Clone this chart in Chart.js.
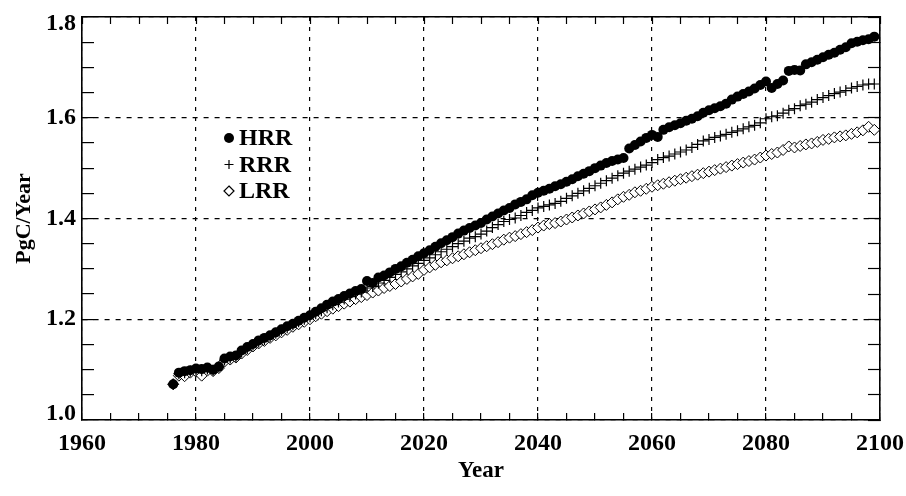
<!DOCTYPE html>
<html>
<head>
<meta charset="utf-8">
<script src="https://cdn.jsdelivr.net/npm/chart.js@4.4.0/dist/chart.umd.min.js"></script>
<style>
  html, body { margin: 0; padding: 0; background: #fff; }
</style>
</head>
<body>
<canvas id="chart" width="906" height="496"></canvas>
<script>
// yearly values 1976..2099
const FIRST_YEAR = 1976;

const hrr = [
  1.071, 1.094, 1.097, 1.099, 1.102, 1.101, 1.104, 1.100, 1.106, 1.122,
  1.126, 1.128, 1.138, 1.145, 1.151, 1.158, 1.163, 1.168, 1.174, 1.180,
  1.186, 1.191, 1.197, 1.203, 1.208, 1.215, 1.222, 1.229, 1.235, 1.240,
  1.246, 1.251, 1.256, 1.260, 1.276, 1.272, 1.283, 1.287, 1.293, 1.300,
  1.305, 1.312, 1.318, 1.325, 1.331, 1.337, 1.344, 1.351, 1.357, 1.363,
  1.370, 1.376, 1.381, 1.386, 1.391, 1.398, 1.404, 1.410, 1.416, 1.421,
  1.428, 1.433, 1.438, 1.446, 1.451, 1.455, 1.459, 1.464, 1.468, 1.473,
  1.478, 1.484, 1.489, 1.494, 1.500, 1.505, 1.510, 1.514, 1.517, 1.520,
  1.539, 1.546, 1.553, 1.560, 1.566, 1.562, 1.576, 1.581, 1.585, 1.589,
  1.594, 1.598, 1.603, 1.610, 1.615, 1.619, 1.623, 1.628, 1.636, 1.642,
  1.647, 1.652, 1.658, 1.665, 1.672, 1.659, 1.667, 1.674, 1.693, 1.695,
  1.694, 1.706, 1.710, 1.715, 1.720, 1.725, 1.729, 1.735, 1.740, 1.748,
  1.751, 1.754, 1.756, 1.761
];

const rrr = [
  1.071, 1.092, 1.094, 1.097, 1.099, 1.098, 1.101, 1.099, 1.105, 1.119,
  1.123, 1.126, 1.135, 1.142, 1.149, 1.155, 1.160, 1.166, 1.172, 1.178,
  1.183, 1.189, 1.195, 1.200, 1.205, 1.211, 1.217, 1.223, 1.229, 1.234,
  1.240, 1.245, 1.250, 1.254, 1.262, 1.265, 1.272, 1.277, 1.283, 1.289,
  1.294, 1.300, 1.306, 1.311, 1.317, 1.322, 1.328, 1.334, 1.339, 1.344,
  1.350, 1.355, 1.361, 1.364, 1.369, 1.375, 1.382, 1.388, 1.394, 1.398,
  1.401, 1.406, 1.412, 1.416, 1.421, 1.424, 1.427, 1.430, 1.434, 1.440,
  1.445, 1.450, 1.455, 1.460, 1.465, 1.470, 1.475, 1.480, 1.485, 1.490,
  1.494, 1.498, 1.502, 1.506, 1.511, 1.517, 1.521, 1.524, 1.528, 1.532,
  1.536, 1.541, 1.547, 1.554, 1.557, 1.561, 1.564, 1.567, 1.571, 1.574,
  1.578, 1.582, 1.585, 1.590, 1.598, 1.602, 1.604, 1.609, 1.615, 1.618,
  1.624, 1.627, 1.631, 1.636, 1.640, 1.644, 1.648, 1.651, 1.654, 1.659,
  1.662, 1.665, 1.667, 1.667
];

const lrr = [
  1.071, 1.088, 1.087, 1.094, 1.096, 1.088, 1.098, 1.097, 1.103, 1.116,
  1.120, 1.124, 1.132, 1.139, 1.146, 1.152, 1.157, 1.163, 1.168, 1.174,
  1.179, 1.185, 1.190, 1.195, 1.200, 1.206, 1.211, 1.216, 1.221, 1.226,
  1.231, 1.235, 1.240, 1.244, 1.248, 1.253, 1.257, 1.262, 1.266, 1.270,
  1.275, 1.280, 1.285, 1.290, 1.298, 1.303, 1.308, 1.313, 1.317, 1.321,
  1.325, 1.329, 1.333, 1.337, 1.341, 1.345, 1.349, 1.353, 1.358, 1.362,
  1.365, 1.369, 1.373, 1.377, 1.382, 1.386, 1.389, 1.391, 1.394, 1.398,
  1.402, 1.406, 1.410, 1.414, 1.418, 1.422, 1.427, 1.432, 1.438, 1.443,
  1.447, 1.452, 1.455, 1.459, 1.463, 1.466, 1.469, 1.472, 1.475, 1.478,
  1.481, 1.484, 1.487, 1.490, 1.493, 1.496, 1.499, 1.502, 1.505, 1.508,
  1.511, 1.514, 1.517, 1.521, 1.525, 1.528, 1.531, 1.536, 1.543, 1.541,
  1.544, 1.547, 1.549, 1.552, 1.556, 1.558, 1.561, 1.563, 1.565, 1.568,
  1.571, 1.575, 1.582, 1.576
];

const seriesNames = ['HRR', 'RRR', 'LRR'];
const xTickLabels = [1960, 1980, 2000, 2020, 2040, 2060, 2080, 2100];
const yTickLabels = ['1.0', '1.2', '1.4', '1.6', '1.8'];

const FONT = '"Liberation Serif", "Times New Roman", serif';

function toPoints(values) {
  return values.map((v, i) => ({ x: FIRST_YEAR + i, y: v }));
}

// pin the axis box sizes so the plot area matches the original
function fixBox(w, h) {
  return s => {
    if (w !== null) s.width = w;
    if (h !== null) s.height = h;
    s.paddingTop = 0; s.paddingBottom = 0;
    s.paddingLeft = 0; s.paddingRight = 0;
  };
}

// legend sits inside the plot, like the original
const insideLegend = {
  id: 'insideLegend',
  afterDraw(chart) {
    const ctx = chart.ctx;
    const sx = 229, tx = 239, rows = [138, 164.5, 191];
    ctx.save();
    ctx.fillStyle = '#000';
    ctx.strokeStyle = '#000';
    ctx.font = 'bold 24px ' + FONT;
    ctx.textBaseline = 'middle';
    ctx.textAlign = 'left';
    seriesNames.forEach((name, i) => {
      const y = rows[i];
      ctx.lineWidth = 1.2;
      ctx.beginPath();
      if (i === 0) {
        ctx.arc(sx, y, 5, 0, Math.PI * 2);
        ctx.fill();
      } else if (i === 1) {
        ctx.moveTo(sx - 4.5, y); ctx.lineTo(sx + 4.5, y);
        ctx.moveTo(sx, y - 4.5); ctx.lineTo(sx, y + 4.5);
        ctx.stroke();
      } else {
        ctx.moveTo(sx, y - 5); ctx.lineTo(sx + 5, y);
        ctx.lineTo(sx, y + 5); ctx.lineTo(sx - 5, y);
        ctx.closePath();
        ctx.stroke();
      }
      ctx.fillText(name, tx, y + 1);
    });
    ctx.restore();
  }
};

const isMajorX = v => Math.round(v) % 20 === 0;
const isMajorY = v => Math.round(v * 100) % 20 === 0;

new Chart(document.getElementById('chart'), {
  type: 'scatter',
  data: {
    datasets: [
      {
        label: seriesNames[0],
        data: toPoints(hrr),
        pointStyle: 'circle',
        pointRadius: 5,
        backgroundColor: '#000',
        borderColor: '#000',
        borderWidth: 0
      },
      {
        label: seriesNames[1],
        data: toPoints(rrr),
        pointStyle: 'cross',
        pointRadius: 5.5,
        backgroundColor: '#000',
        borderColor: '#000',
        borderWidth: 1.2
      },
      {
        label: seriesNames[2],
        data: toPoints(lrr),
        pointStyle: 'rectRot',
        pointRadius: 5.5,
        backgroundColor: '#fff',
        borderColor: '#000',
        borderWidth: 1
      }
    ]
  },
  options: {
    responsive: false,
    animation: false,
    layout: { padding: { top: 17, right: 26, left: 0, bottom: 0 } },
    plugins: {
      legend: { display: false },
      tooltip: { enabled: false }
    },
    scales: {
      x: {
        type: 'linear',
        position: 'bottom',
        min: 1960,
        max: 2100,
        afterFit: fixBox(null, 76),
        ticks: {
          stepSize: 5,
          padding: 16,
          maxRotation: 0,
          autoSkip: false,
          color: '#000',
          font: { family: FONT, size: 24, weight: 'bold' },
          callback: v => xTickLabels.includes(v) ? String(v) : ''
        },
        grid: {
          color: c => isMajorX(c.tick.value) ? '#000' : 'rgba(0,0,0,0)',
          lineWidth: 1.2,
          tickLength: -7,
          tickColor: '#000',
          tickWidth: 1.2,
          tickBorderDash: []
        },
        border: { display: true, color: '#000', width: 1.6, dash: [4, 6] },
        title: {
          display: true,
          text: 'Year',
          color: '#000',
          font: { family: FONT, size: 23, weight: 'bold' },
          padding: { top: 0, bottom: 11 }
        }
      },
      y: {
        type: 'linear',
        position: 'left',
        min: 1.0,
        max: 1.8,
        afterFit: fixBox(82, null),
        ticks: {
          stepSize: 0.05,
          padding: 18,
          autoSkip: false,
          color: '#000',
          font: { family: FONT, size: 24, weight: 'bold', lineHeight: 0.55 },
          callback: v => {
            const t = v.toFixed(1);
            if (!isMajorY(v) || !yTickLabels.includes(t)) return '';
            // end labels sit inside the range in the original
            if (t === '1.8') return ['', t];
            if (t === '1.0') return [t, ''];
            return t;
          }
        },
        grid: {
          color: c => isMajorY(c.tick.value) ? '#000' : 'rgba(0,0,0,0)',
          lineWidth: 1.2,
          tickLength: -12,
          tickColor: '#000',
          tickWidth: 1.2,
          tickBorderDash: []
        },
        border: { display: true, color: '#000', width: 1.6, dash: [5, 6] },
        title: {
          display: true,
          text: 'PgC/Year',
          color: '#000',
          font: { family: FONT, size: 22, weight: 'bold' },
          padding: { top: 11, bottom: 0 }
        }
      },
      x2: {
        type: 'linear',
        position: 'top',
        min: 1960,
        max: 2100,
        afterFit: fixBox(null, 0),
        ticks: { stepSize: 5, display: false, autoSkip: false },
        grid: {
          drawOnChartArea: false,
          tickLength: -7,
          tickColor: '#000',
          tickWidth: 1.2,
          tickBorderDash: []
        },
        border: { display: true, color: '#000', width: 1.6 }
      },
      y2: {
        type: 'linear',
        position: 'right',
        min: 1.0,
        max: 1.8,
        afterFit: fixBox(0, null),
        ticks: { stepSize: 0.05, display: false, autoSkip: false },
        grid: {
          drawOnChartArea: false,
          tickLength: -12,
          tickColor: '#000',
          tickWidth: 1.2,
          tickBorderDash: []
        },
        border: { display: true, color: '#000', width: 1.6 }
      }
    }
  },
  plugins: [insideLegend]
});
</script>
</body>
</html>
